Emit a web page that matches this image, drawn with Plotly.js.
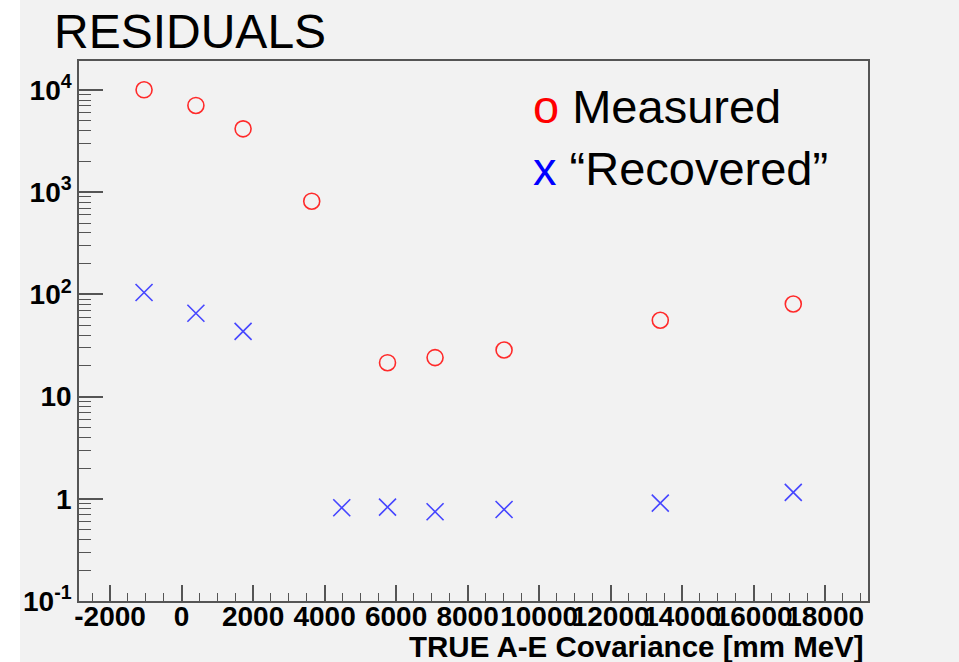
<!DOCTYPE html>
<html>
<head>
<meta charset="utf-8">
<script src="https://cdn.plot.ly/plotly-3.0.1.min.js"></script>
<style>
  html, body { margin: 0; padding: 0; background: #ffffff; }
  #chart { position: absolute; left: 20px; top: 0; width: 939px; height: 662px; }
</style>
</head>
<body>
<div id="chart"></div>
<script>
// Data
const xMeasured  = [-1050, 400, 1720, 3640, 5760, 7090, 9020, 13390, 17110];
const yMeasured  = [10070, 7080, 4180, 818, 21.5, 24.1, 28.6, 55.9, 80.7];
const xRecovered = [-1050, 400, 1720, 4480, 5760, 7090, 9020, 13390, 17110];
const yRecovered = [104.5, 65.5, 43.6, 0.818, 0.83, 0.748, 0.787, 0.908, 1.156];

const xTickVals  = [-2000, 0, 2000, 4000, 6000, 8000, 10000, 12000, 14000, 16000, 18000];
const xTickText  = ['-2000', '0', '2000', '4000', '6000', '8000', '10000', '12000', '14000', '16000', '18000'];
const yTickVals  = [0.1, 1, 10, 100, 1000, 10000];
const yTickText  = ['10<sup>-1</sup>', '1', '10', '10<sup>2</sup>', '10<sup>3</sup>', '10<sup>4</sup>'];

const titleText  = 'RESIDUALS';
const xTitleText = 'TRUE A-E Covariance [mm MeV]';
const legendMeasured  = 'Measured';
const legendRecovered = '\u201CRecovered\u201D';

// minor log ticks 2..9 per decade
const yMinor = [];
for (let d = -1; d <= 4; d++) {
  for (let m = 2; m <= 9; m++) yMinor.push(m * Math.pow(10, d));
}

const FONT = 'Liberation Sans, Arial, Helvetica, sans-serif';
const axisColor = '#555555';

const traces = [
  {
    x: xMeasured, y: yMeasured, type: 'scatter', mode: 'markers', name: legendMeasured,
    marker: { symbol: 'circle-open', size: 16, color: '#ff2a2a', line: { width: 1.6, color: '#ff2a2a' } },
    showlegend: false, hoverinfo: 'x+y'
  },
  {
    x: xRecovered, y: yRecovered, type: 'scatter', mode: 'markers', name: legendRecovered,
    marker: { symbol: 'x-thin-open', size: 17, color: '#4646ff', line: { width: 1.6, color: '#4646ff' } },
    showlegend: false, hoverinfo: 'x+y'
  }
];

const layout = {
  width: 939, height: 662,
  margin: { l: 59, r: 91, t: 61, b: 61, pad: 0 },
  paper_bgcolor: '#f2f2f2',
  plot_bgcolor: '#f2f2f2',
  font: { family: FONT, color: '#000000' },
  showlegend: false,
  title: {
    text: titleText,
    font: { family: FONT, size: 48, color: '#000000' },
    xref: 'container', yref: 'container',
    x: 34 / 939, xanchor: 'left',
    y: 1 - 31 / 662, yanchor: 'middle'
  },
  xaxis: {
    type: 'linear',
    range: [-2870, 19200],
    tickmode: 'array', tickvals: xTickVals, ticktext: xTickText,
    ticks: 'inside', ticklen: 16, tickwidth: 1.5, tickcolor: axisColor,
    minor: { dtick: 500, tick0: 0, ticks: 'inside', ticklen: 8, tickwidth: 1.2, tickcolor: axisColor },
    tickangle: 0,
    tickfont: { family: FONT, size: 28, color: '#000000', weight: 'bold' },
    showline: true, mirror: true, linecolor: axisColor, linewidth: 1.5,
    showgrid: false, zeroline: false,
    automargin: false,
    ticklabelstandoff: -10
  },
  yaxis: {
    type: 'log',
    range: [-1, 4.285],
    tickmode: 'array', tickvals: yTickVals, ticktext: yTickText,
    ticks: 'inside', ticklen: 24, tickwidth: 1.5, tickcolor: axisColor,
    minor: { tickmode: 'array', tickvals: yMinor, ticks: 'inside', ticklen: 12, tickwidth: 1.2, tickcolor: axisColor },
    tickfont: { family: FONT, size: 28, color: '#000000', weight: 'bold' },
    showline: true, mirror: true, linecolor: axisColor, linewidth: 1.5,
    showgrid: false, zeroline: false,
    automargin: false
  },
  annotations: [
    {
      text: xTitleText, xref: 'paper', yref: 'paper',
      x: 0.998, xanchor: 'right', y: -0.085, yanchor: 'middle',
      showarrow: false,
      font: { family: FONT, size: 29.5, color: '#000000', weight: 'bold' }
    },
    {
      text: '<span style="color:#ff0000">o</span> ' + legendMeasured,
      xref: 'paper', yref: 'paper',
      x: (531 - 79) / 789, xanchor: 'left', y: (601 - 107) / 540, yanchor: 'middle',
      showarrow: false,
      font: { family: FONT, size: 47, color: '#000000' }
    },
    {
      text: '<span style="color:#0000ff">x</span> ' + legendRecovered,
      xref: 'paper', yref: 'paper',
      x: (531 - 79) / 789, xanchor: 'left', y: (601 - 169) / 540, yanchor: 'middle',
      showarrow: false,
      font: { family: FONT, size: 47, color: '#000000' }
    }
  ]
};

Plotly.newPlot('chart', traces, layout, { displayModeBar: false, responsive: false });
</script>
</body>
</html>
